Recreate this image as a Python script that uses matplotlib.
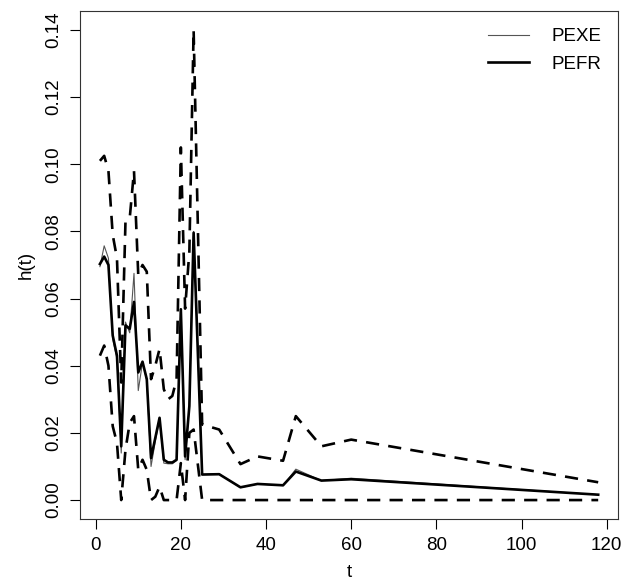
import matplotlib
matplotlib.use("Agg")
import matplotlib.pyplot as plt

plt.rcParams['font.family'] = ['Liberation Sans', 'DejaVu Sans']

# time points
t = [1, 2, 3, 4, 5, 6, 7, 8, 9, 10, 11, 12, 13, 14, 15, 16, 17, 18, 19, 20, 21, 22, 23,
     25, 29, 34, 38, 44, 47, 53, 60, 118]

# PEXE estimate (thin grey)
pexe = [0.0695, 0.0757, 0.0720, 0.0480, 0.0420, 0.0140, 0.0530, 0.0498, 0.0675, 0.0326,
        0.0410, 0.0355, 0.0100, 0.0175, 0.0240, 0.0110, 0.0108, 0.0108, 0.0118, 0.0570,
        0.0120, 0.0280, 0.0800,
        0.0076, 0.0078, 0.0037, 0.0048, 0.0043, 0.0092, 0.0058, 0.0065, 0.0016]

# PEFR estimate (thick black)
pefr = [0.0703, 0.0725, 0.0700, 0.0490, 0.0430, 0.0160, 0.0520, 0.0510, 0.0590, 0.0380,
        0.0412, 0.0360, 0.0125, 0.0185, 0.0245, 0.0120, 0.0112, 0.0112, 0.0120, 0.0568,
        0.0130, 0.0280, 0.0796,
        0.0076, 0.0077, 0.0038, 0.0048, 0.0044, 0.0085, 0.0058, 0.0062, 0.0016]

# confidence band for PEFR (dashed)
upper = [0.1010, 0.1025, 0.0980, 0.0790, 0.0720, 0.0350, 0.0830, 0.0840, 0.0980, 0.0670,
         0.0700, 0.0680, 0.0360, 0.0400, 0.0450, 0.0330, 0.0300, 0.0310, 0.0360, 0.1050,
         0.0570, 0.0740, 0.1400,
         0.0225, 0.0210, 0.0107, 0.0130, 0.0117, 0.0250, 0.0160, 0.0180, 0.0053]

lower = [0.0430, 0.0460, 0.0400, 0.0220, 0.0170, 0.0000, 0.0150, 0.0230, 0.0250, 0.0090,
         0.0120, 0.0090, 0.0000, 0.0010, 0.0040, 0.0000, 0.0000, 0.0000, 0.0000, 0.0110,
         0.0000, 0.0200, 0.0210,
         0.0000, 0.0000, 0.0000, 0.0000, 0.0000, 0.0000, 0.0000, 0.0000, 0.0000]

fig = plt.figure(figsize=(6.25, 5.83), dpi=100)
ax = fig.add_axes([0.128, 0.110, 0.861, 0.871])

dash = (0, (5, 3.5))
ax.plot(t, pexe, color='#555555', lw=0.8, label='PEXE')
ax.plot(t, pefr, color='black', lw=1.9, label='PEFR')
ax.plot(t, upper, color='black', lw=1.9, linestyle=dash)
ax.plot(t, lower, color='black', lw=1.9, linestyle=dash)

ax.set_xlim(-3.68, 122.68)
ax.set_ylim(-0.0056, 0.1456)
ax.set_xticks([0, 20, 40, 60, 80, 100, 120])
ax.set_yticks([0.00, 0.02, 0.04, 0.06, 0.08, 0.10, 0.12, 0.14])
ax.set_yticklabels(['0.00', '0.02', '0.04', '0.06', '0.08', '0.10', '0.12', '0.14'],
                   rotation=90, va='center')
ax.tick_params(labelsize=13.5, length=7, width=0.8, pad=6, direction='out')
for s in ax.spines.values():
    s.set_linewidth(0.8)
    s.set_color('#333333')

ax.set_xlabel('t', fontsize=13.5, labelpad=7)
ax.set_ylabel('h(t)', fontsize=13.5, labelpad=7)

leg = ax.legend(loc='upper right', frameon=False, fontsize=13.5, handlelength=2.2,
                handletextpad=1.2, labelspacing=0.55, borderaxespad=0.5)

fig.savefig('out.png', dpi=100)
